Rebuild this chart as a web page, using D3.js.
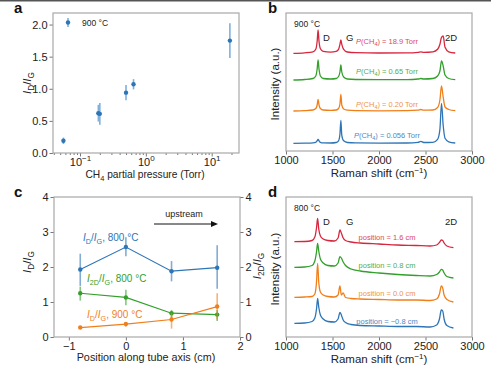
<!DOCTYPE html>
<html>
<head>
<meta charset="utf-8">
<script src="https://cdn.jsdelivr.net/npm/d3@7"></script>
<style>
  body { margin: 0; background: #fff; }
  svg { font-family: "Liberation Sans", Arial, sans-serif; }
</style>
</head>
<body>
<svg id="fig" width="491" height="367"></svg>
<script>
// ---- panel a: I_D/I_G vs CH4 pressure (900 C)
var pressureA = [0.056, 0.19, 0.20, 0.50, 0.65, 18.9];
var ratioA    = [0.19, 0.62, 0.61, 0.94, 1.07, 1.75];
var errA      = [0.05, 0.13, 0.17, 0.12, 0.08, 0.27];

// ---- panel b: Raman spectra at 900 C (stacked, a.u.)
var shiftB = [1080, 1200, 1290, 1320, 1335, 1345, 1355, 1370, 1400, 1480, 1540, 1565, 1580, 1590, 1600, 1620,
              1660, 1750, 2000, 2300, 2420, 2450, 2480, 2580, 2630, 2655, 2672, 2690, 2710, 2750, 2820];
var specB056 = [7.7, 7.9, 8.2, 8.7, 10.2, 11.7, 10.2, 8.7, 8.1, 8, 8.5, 10.2, 16.7, 30.7, 15.7, 10.2,
                8.5, 8.1, 7.9, 8, 8.7, 9.7, 8.5, 8.7, 11.7, 21.7, 47.7, 25.7, 12.7, 9.2, 8];
var specB020 = [40, 40.3, 41, 42.5, 46, 51.7, 46, 42.5, 41, 40.6, 41, 42.5, 47, 56.7, 46, 42,
                40.8, 40.4, 40.2, 40.3, 40.8, 41.5, 40.8, 41, 43.5, 51, 65, 54, 44, 41.5, 40.3];
var specB065 = [71, 71.5, 72.5, 75, 82, 91, 82, 75, 72.5, 72, 72.5, 74.5, 79, 86, 79, 74,
                72, 71.5, 71.3, 71.4, 72, 72.5, 72, 72.5, 75, 80, 90, 85, 76, 72.5, 71.3];
var specB189 = [97.7, 98.2, 99.2, 101.7, 109.7, 121, 109.7, 102.2, 99.7, 98.9, 99.7, 101.7, 106.7, 111, 106.7, 101.7,
                99, 98.3, 98, 98.1, 98.7, 99.2, 98.7, 99.2, 101.7, 106.7, 113.7, 115, 103.7, 99.2, 98];
var labelsB = ["0.056", "0.20", "0.65", "18.9"];

// ---- panel c: ratios along tube axis
var positionC = [-0.8, 0, 0.8, 1.6];
var idig800   = [1.93, 2.57, 1.88, 1.98];
var idig800Lo = [1.46, 2.31, 1.59, 1.38];
var idig800Hi = [2.38, 2.85, 2.17, 2.62];
var i2dig800   = [1.25, 1.13, 0.68, 0.64];
var i2dig800Lo = [1.04, 0.91, 0.55, 0.46];
var i2dig800Hi = [1.44, 1.35, 0.77, 0.77];
var idig900   = [0.27, 0.37, 0.50, 0.87];
var idig900Lo = [0.24, 0.29, 0.24, 0.50];
var idig900Hi = [0.30, 0.43, 0.69, 1.25];

// ---- panel d: Raman spectra at 800 C (stacked, a.u.)
var shiftD = [1090, 1200, 1280, 1310, 1328, 1340, 1352, 1370, 1400, 1450, 1520, 1560, 1580, 1595, 1615,
              1640, 1700, 1800, 2000, 2200, 2400, 2550, 2620, 2650, 2670, 2685, 2700, 2730, 2800];
var specDm08 = [13.7, 14, 15.5, 19, 28, 38.7, 30, 22, 18, 15.5, 15, 18, 24.7, 22, 17,
                14.5, 12.5, 11.5, 11, 10.5, 10.5, 10, 12, 18, 27, 26, 18, 11.5, 9];
var specD00  = [39.7, 40, 40.5, 43, 55, 73.7, 55, 45, 42, 40.5, 40, 42, 51, 42, 44,
                39.5, 38.5, 38, 37.5, 37, 37, 36.5, 38, 43, 51, 49, 42, 37.5, 35];
var specD08  = [69.7, 70, 71.5, 76, 85, 93.7, 86, 78, 74, 71.5, 71, 74, 80.3, 79, 75,
                71.5, 68, 66, 64, 62.5, 61.5, 61, 62.5, 65, 67.7, 67, 64, 60.5, 59];
var specD16  = [95.3, 95.5, 96.5, 100, 109, 118.7, 108, 101, 98, 96.5, 96, 99, 107, 104, 99,
                96.5, 95, 94, 93, 92, 91.5, 91, 92, 94.5, 97, 96.5, 94, 91, 89.3];
var labelsD = ["\u22120.8", "0.0", "0.8", "1.6"];

var blue = "#2e75b6", orange = "#f07f1a", green = "#33a02c", red = "#d7263d";
var frameColor = "#a8a8a8", textColor = "#222";

var svg = d3.select("#fig");
svg.append("rect").attr("width", 491).attr("height", 1.5).attr("fill", "#555");

function ratioText(t, a, b, rest, size) {
  t.append("tspan").style("font-style", "italic").text("I");
  t.append("tspan").attr("dy", size * 0.3).attr("font-size", size * 0.72).text(a);
  t.append("tspan").attr("dy", -size * 0.3).text("/");
  t.append("tspan").style("font-style", "italic").text("I");
  t.append("tspan").attr("dy", size * 0.3).attr("font-size", size * 0.72).text(b);
  if (rest) t.append("tspan").attr("dy", -size * 0.3).text(rest);
}

function styleAxis(g) {
  g.select(".domain").remove();
  g.selectAll(".tick line").attr("stroke", "#777");
  g.selectAll(".tick text").attr("fill", textColor).attr("font-size", 11);
}

function frame(x0, y0, x1, y1) {
  svg.append("rect").attr("x", x0).attr("y", y0).attr("width", x1 - x0).attr("height", y1 - y0)
    .attr("fill", "none").attr("stroke", frameColor).attr("stroke-width", 1.2);
}

function panelLetter(s, x, y) {
  svg.append("text").attr("x", x).attr("y", y).attr("font-size", 15).attr("font-weight", "bold")
    .attr("fill", "#111").text(s);
}

// ================= panel a
var xa = d3.scaleLog().domain([0.0389, 26]).range([53, 239]);
var ya = d3.scaleLinear().domain([0, 2.18]).range([153, 13]);

var gaX = svg.append("g").attr("transform", "translate(0,153)")
  .call(d3.axisBottom(xa).tickValues([0.1, 1, 10]).tickSize(3.5).tickPadding(2).tickFormat(""));
styleAxis(gaX);
gaX.selectAll(".tick").append("text").attr("y", 13).attr("text-anchor", "middle")
  .attr("fill", textColor).attr("font-size", 11)
  .each(function(d) {
    var t = d3.select(this);
    t.append("tspan").text("10");
    t.append("tspan").attr("dy", -5).attr("font-size", 8).text(String(Math.round(Math.log10(d))).replace("-", "\u2212"));
  });
var minorA = [0.04, 0.05, 0.06, 0.07, 0.08, 0.09, 0.2, 0.3, 0.4, 0.5, 0.6, 0.7, 0.8, 0.9, 2, 3, 4, 5, 6, 7, 8, 9, 20];
var gaXm = svg.append("g").attr("transform", "translate(0,153)")
  .call(d3.axisBottom(xa).tickValues(minorA).tickSize(2).tickFormat(""));
styleAxis(gaXm);

var gaY = svg.append("g").attr("transform", "translate(53,0)")
  .call(d3.axisLeft(ya).tickValues([0, 0.5, 1, 1.5, 2]).tickSize(3.5).tickPadding(2).tickFormat(d3.format(".1f")));
styleAxis(gaY);
frame(53, 13, 239, 153);

svg.append("g").selectAll("line").data(pressureA).join("line")
  .attr("x1", d => xa(d)).attr("x2", d => xa(d))
  .attr("y1", (d, i) => ya(ratioA[i] - errA[i])).attr("y2", (d, i) => ya(ratioA[i] + errA[i]))
  .attr("stroke", "#7fb0dc").attr("stroke-width", 1.6);
svg.append("g").selectAll("circle").data(pressureA).join("circle")
  .attr("cx", d => xa(d)).attr("cy", (d, i) => ya(ratioA[i])).attr("r", 2.2).attr("fill", blue);

// legend
svg.append("line").attr("x1", 68).attr("x2", 68).attr("y1", 18).attr("y2", 27)
  .attr("stroke", "#7fb0dc").attr("stroke-width", 1.6);
svg.append("circle").attr("cx", 68).attr("cy", 22.5).attr("r", 2.2).attr("fill", blue);
svg.append("text").attr("x", 82).attr("y", 25.5).attr("font-size", 8.5).attr("fill", textColor).text("900 \u00b0C");

var ta = svg.append("text").attr("transform", "translate(31,83) rotate(-90)").attr("text-anchor", "middle")
  .attr("font-size", 11.5).attr("fill", textColor);
ratioText(ta, "D", "G", null, 11.5);
var tax = svg.append("text").attr("x", 145).attr("y", 178).attr("text-anchor", "middle")
  .attr("font-size", 10.2).attr("fill", textColor);
tax.append("tspan").text("CH");
tax.append("tspan").attr("dy", 3).attr("font-size", 7.5).text("4");
tax.append("tspan").attr("dy", -3).text(" partial pressure (Torr)");
panelLetter("a", 14, 13);

// ================= spectra panels
function spectrumPanel(top, bottom, ymax, shifts, series, colors, labels, temp, labelY, prefix) {
  var x = d3.scaleLinear().domain([1000, 3000]).range([286, 472]);
  var y = d3.scaleLinear().domain([0, ymax]).range([bottom, top]);
  var gx = svg.append("g").attr("transform", "translate(0," + bottom + ")")
    .call(d3.axisBottom(x).tickValues([1000, 1500, 2000, 2500, 3000]).tickSize(3.5).tickPadding(2).tickFormat(d3.format("d")));
  styleAxis(gx);
  frame(286, top, 472, bottom);
  var line = d3.line().x(d => x(d[0])).y(d => y(d[1])).curve(d3.curveMonotoneX);
  series.forEach(function(s, k) {
    svg.append("path").datum(shifts.map((v, i) => [v, s[i]]))
      .attr("d", line).attr("fill", "none").attr("stroke", colors[k]).attr("stroke-width", 1.3);
    var t = svg.append("text").attr("x", 387).attr("y", y(labelY[k])).attr("text-anchor", "middle")
      .attr("font-size", 7.5).attr("fill", colors[k]).attr("opacity", 0.85);
    if (prefix === "P") {
      t.append("tspan").style("font-style", "italic").text("P");
      t.append("tspan").text("(CH");
      t.append("tspan").attr("dy", 2).attr("font-size", 5.5).text("4");
      t.append("tspan").attr("dy", -2).text(") = " + labels[k] + " Torr");
    } else {
      t.text("position = " + labels[k] + " cm");
    }
  });
  svg.append("text").attr("x", 294).attr("y", top + 14).attr("font-size", 8.5).attr("fill", textColor).text(temp);
  [["D", 323], ["G", 346], ["2D", 445]].forEach(function(p) {
    svg.append("text").attr("x", p[1]).attr("y", top + 28).attr("font-size", 9.5).attr("fill", textColor).text(p[0]);
  });
  svg.append("text").attr("transform", "translate(279," + ((top + bottom) / 2 + 2) + ") rotate(-90)")
    .attr("text-anchor", "middle").attr("font-size", 11.5).attr("fill", textColor).text("Intensity (a.u.)");
  var tx = svg.append("text").attr("x", 379).attr("y", bottom + 26).attr("text-anchor", "middle")
    .attr("font-size", 11.5).attr("fill", textColor);
  tx.append("tspan").text("Raman shift (cm");
  tx.append("tspan").attr("dy", -4).attr("font-size", 8).text("\u22121");
  tx.append("tspan").attr("dy", 4).text(")");
}

spectrumPanel(13, 151, 138, shiftB, [specB056, specB020, specB065, specB189],
  [blue, orange, green, red], labelsB, "900 \u00b0C", [13.5, 44, 77, 107], "P");
panelLetter("b", 268, 13);

spectrumPanel(197, 337, 140, shiftD, [specDm08, specD00, specD08, specD16],
  [blue, orange, green, red], labelsD, "800 \u00b0C", [13, 41, 69, 97], "pos");
panelLetter("d", 268, 197);

// ================= panel c
var xc = d3.scaleLinear().domain([-1.26, 2.0]).range([54, 240]);
var yc = d3.scaleLinear().domain([0, 4]).range([337, 197]);
var gcX = svg.append("g").attr("transform", "translate(0,337)")
  .call(d3.axisBottom(xc).tickValues([-1, 0, 1, 2]).tickSize(3.5).tickPadding(2)
    .tickFormat(d => String(d).replace("-", "\u2212")));
styleAxis(gcX);
var gcY = svg.append("g").attr("transform", "translate(54,0)")
  .call(d3.axisLeft(yc).ticks(4).tickSize(3.5).tickPadding(2));
styleAxis(gcY);
var gcY2 = svg.append("g").attr("transform", "translate(240,0)")
  .call(d3.axisRight(yc).ticks(4).tickSize(3.5).tickPadding(2));
styleAxis(gcY2);
frame(54, 197, 240, 337);

var seriesC = [
  { v: idig800, lo: idig800Lo, hi: idig800Hi, c: blue },
  { v: i2dig800, lo: i2dig800Lo, hi: i2dig800Hi, c: green },
  { v: idig900, lo: idig900Lo, hi: idig900Hi, c: orange }
];
var lineC = d3.line().x(d => xc(d[0])).y(d => yc(d[1]));
seriesC.forEach(function(s) {
  var g = svg.append("g");
  g.selectAll("line").data(positionC).join("line")
    .attr("x1", d => xc(d)).attr("x2", d => xc(d))
    .attr("y1", (d, i) => yc(s.lo[i])).attr("y2", (d, i) => yc(s.hi[i]))
    .attr("stroke", s.c).attr("stroke-opacity", 0.6).attr("stroke-width", 1.6);
  g.append("path").datum(positionC.map((p, i) => [p, s.v[i]]))
    .attr("d", lineC).attr("fill", "none").attr("stroke", s.c).attr("stroke-width", 1.2);
  g.selectAll("circle").data(positionC).join("circle")
    .attr("cx", d => xc(d)).attr("cy", (d, i) => yc(s.v[i])).attr("r", 2.2)
    .attr("fill", s.c);
});

ratioText(svg.append("text").attr("x", 83).attr("y", 241).attr("font-size", 10).attr("fill", blue), "D", "G", ", 800 \u00b0C", 10);
ratioText(svg.append("text").attr("x", 87).attr("y", 282).attr("font-size", 10).attr("fill", green), "2D", "G", ", 800 \u00b0C", 10);
ratioText(svg.append("text").attr("x", 87).attr("y", 318).attr("font-size", 10).attr("fill", orange), "D", "G", ", 900 \u00b0C", 10);

svg.append("text").attr("x", 184).attr("y", 217).attr("text-anchor", "middle").attr("font-size", 9)
  .attr("fill", textColor).text("upstream");
svg.append("line").attr("x1", 154).attr("x2", 213).attr("y1", 224).attr("y2", 224)
  .attr("stroke", "#111").attr("stroke-width", 1);
svg.append("path").attr("d", "M218,224 L211,221 L211,227 Z").attr("fill", "#111");

ratioText(svg.append("text").attr("transform", "translate(31,262) rotate(-90)").attr("text-anchor", "middle")
  .attr("font-size", 11.5).attr("fill", textColor), "D", "G", null, 11.5);
ratioText(svg.append("text").attr("transform", "translate(261,266) rotate(-90)").attr("text-anchor", "middle")
  .attr("font-size", 11.5).attr("fill", textColor), "2D", "G", null, 11.5);
svg.append("text").attr("x", 146).attr("y", 361).attr("text-anchor", "middle").attr("font-size", 10.8)
  .attr("fill", textColor).text("Position along tube axis (cm)");
panelLetter("c", 14, 197);
</script>
</body>
</html>
